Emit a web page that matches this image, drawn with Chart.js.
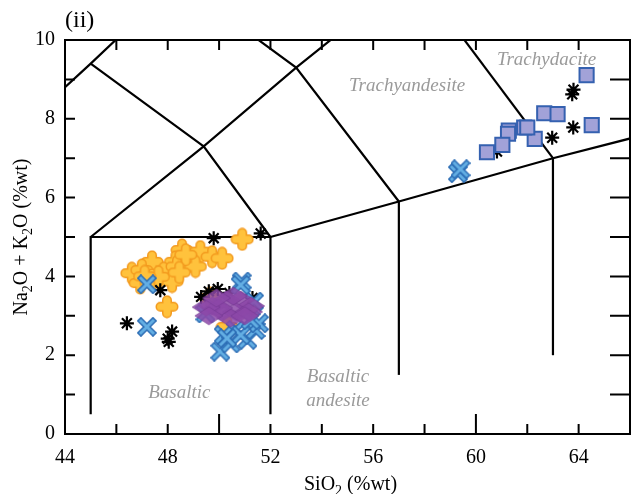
<!DOCTYPE html>
<html>
<head>
<meta charset="utf-8">
<script src="https://cdn.jsdelivr.net/npm/chart.js@4"></script>
<style>
html,body{margin:0;padding:0;background:#fff;}
#wrap{width:631px;height:494px;}
</style>
</head>
<body>
<div id="wrap"><canvas id="c" width="631" height="494"></canvas></div>
<script>
// ---- data (SiO2 %wt, Na2O+K2O %wt) ----
const orangeX = [50.90,48.56,49.27,49.73,50.12,47.39,48.30,48.82,46.60,46.99,47.84,48.36,49.08,47.39,48.17,46.93,47.64,47.97,49.66,50.32,48.70,48.45,47.10];
const orangeY = [4.94,4.67,4.63,4.50,4.46,4.37,4.37,4.37,4.08,4.16,4.08,4.25,4.25,3.91,3.87,3.83,3.99,3.23,3.45,2.72,4.55,4.10,4.00];

const starX = [49.79,51.62,47.71,46.41,48.17,48.04,48.00,49.30,49.60,49.95,50.40,51.30,63.75,63.80,63.79,62.97,60.82];
const starY = [4.97,5.09,3.65,2.81,2.60,2.34,2.42,3.48,3.62,3.68,3.58,3.45,8.62,8.74,7.78,7.52,7.17];

const crossX = [59.30,59.40,47.19,47.19,50.88,51.36,50.84,50.05,50.18,50.64,51.10,51.42,50.45,50.84,51.55,49.47,50.31,51.23];
const crossY = [6.62,6.72,3.80,2.72,3.87,3.36,3.78,2.09,2.51,2.64,2.39,2.64,2.30,2.51,2.81,3.06,2.43,2.89];

const diamondX = [50.29,49.74,50.84,51.23,50.13,50.68,51.15,50.45,51.00,49.98,49.50,50.55,49.60,49.90];
const diamondY = [3.40,3.25,3.40,3.25,3.10,3.10,3.10,2.94,3.00,3.20,3.22,3.50,3.00,3.45];

const squareX = [64.31,64.51,62.66,63.18,62.29,61.88,62.00,61.28,61.25,61.03,60.43];
const squareY = [9.11,7.84,8.14,8.12,7.49,7.78,7.78,7.70,7.62,7.34,7.15];

// TAS field boundaries
const boundaryLines = [
  [[45,0.5],[45,5],[52,5],[52,0.5]],
  [[41,7],[45,9.4],[48.4,11.5]],
  [[45,5],[49.4,7.3],[52,5]],
  [[45,9.4],[49.4,7.3],[53,9.3],[57.6,11.7]],
  [[48.4,11.5],[53,9.3],[57,5.9]],
  [[52,5],[57,5.9],[63,7],[69,8]],
  [[57,1.5],[57,5.9]],
  [[63,2],[63,7]],
  [[57.6,11.7],[63,7]]
];

const fieldLabels = [
  {text:'Trachyandesite', x:57.32, y:8.83},
  {text:'Trachydacite', x:62.75, y:9.49},
  {text:'Basaltic', x:48.45, y:1.04},
  {text:'Basaltic', x:54.63, y:1.45},
  {text:'andesite', x:54.63, y:0.84}
];

const xTickLabels = [44,48,52,56,60,64];
const yTickLabels = [0,2,4,6,8,10];

// ---- marker images ----
function mk(w,h,fn){const c=document.createElement('canvas');c.width=w;c.height=h;fn(c.getContext('2d'));return c;}
const plusImg = mk(24,24,g=>{
  g.lineCap='round';
  g.strokeStyle='#F39A1E';g.lineWidth=10;
  g.beginPath();g.moveTo(5.5,12);g.lineTo(18.5,12);g.moveTo(12,5.5);g.lineTo(12,18.5);g.stroke();
  g.strokeStyle='#FFC23C';g.lineWidth=7;
  g.beginPath();g.moveTo(5.5,12);g.lineTo(18.5,12);g.moveTo(12,5.5);g.lineTo(12,18.5);g.stroke();
});
const xImg = mk(20,20,g=>{
  g.lineCap='square';
  g.strokeStyle='#2C6DB5';g.lineWidth=6;
  g.beginPath();g.moveTo(4,4);g.lineTo(16,16);g.moveTo(16,4);g.lineTo(4,16);g.stroke();
  g.strokeStyle='#63AEE3';g.lineWidth=3;
  g.beginPath();g.moveTo(4,4);g.lineTo(16,16);g.moveTo(16,4);g.lineTo(4,16);g.stroke();
});
const rhombImg = mk(30,20,g=>{
  g.beginPath();g.moveTo(1,10);g.lineTo(15,1);g.lineTo(29,10);g.lineTo(15,19);g.closePath();
  g.fillStyle='rgba(140,72,168,0.85)';g.fill();
  g.strokeStyle='rgba(115,55,145,0.6)';g.lineWidth=1;g.stroke();
});

function pts(xs,ys){return xs.map((x,i)=>({x:x,y:ys[i]}));}

const datasets = [];
boundaryLines.forEach(seg=>{
  datasets.push({type:'line',data:seg.map(p=>({x:p[0],y:p[1]})),borderColor:'#000',borderWidth:2.2,pointRadius:0,fill:false,tension:0,order:10});
});
datasets.push({data:pts(orangeX,orangeY),pointStyle:plusImg,order:6});
datasets.push({data:pts(starX,starY),pointStyle:'star',pointRadius:7,borderColor:'#000',borderWidth:2.2,order:5});
datasets.push({data:pts(crossX,crossY),pointStyle:xImg,order:4});
datasets.push({data:pts(diamondX,diamondY),pointStyle:rhombImg,order:3});
datasets.push({data:pts(squareX,squareY),pointStyle:'rect',pointRadius:10,backgroundColor:'#A2A2D8',borderColor:'#3561B0',borderWidth:2,order:1});

const SERIF = '"Liberation Serif","DejaVu Serif",serif';

const decor = {
  id:'decor',
  beforeDatasetsDraw(chart){
    const {ctx, scales:{x,y}} = chart;
    ctx.save();
    ctx.fillStyle='#9a9a9a';
    ctx.font='italic 19px '+SERIF;
    ctx.textAlign='center';ctx.textBaseline='middle';
    fieldLabels.forEach(l=>ctx.fillText(l.text,x.getPixelForValue(l.x),y.getPixelForValue(l.y)));
    ctx.restore();
  },
  afterDraw(chart){
    const {ctx, chartArea:a, scales:{x,y}} = chart;
    ctx.save();
    ctx.strokeStyle='#000';ctx.lineWidth=2;
    ctx.strokeRect(a.left,a.top,a.right-a.left,a.bottom-a.top);
    ctx.beginPath();
    x.ticks.forEach(t=>{
      const px=x.getPixelForValue(t.value);
      const long=(t.value===50||t.value===60);
      ctx.moveTo(px,a.bottom);ctx.lineTo(px,a.bottom-(long?20:10));
      ctx.moveTo(px,a.top);ctx.lineTo(px,a.top+10);
    });
    y.ticks.forEach(t=>{
      const py=y.getPixelForValue(t.value);
      ctx.moveTo(a.left,py);ctx.lineTo(a.left+10,py);
      ctx.moveTo(a.right,py);ctx.lineTo(a.right-20,py);
    });
    ctx.stroke();
    // titles
    ctx.fillStyle='#000';
    ctx.textBaseline='alphabetic';
    function drawRich(parts,cx,cy){
      let w=0;
      parts.forEach(p=>{ctx.font=(p.sub?'14px ':'20px ')+SERIF;w+=ctx.measureText(p.t).width;});
      let xx=cx-w/2;
      ctx.textAlign='left';
      parts.forEach(p=>{ctx.font=(p.sub?'14px ':'20px ')+SERIF;ctx.fillText(p.t,xx,cy+(p.sub?5:0));xx+=ctx.measureText(p.t).width;});
    }
    drawRich([{t:'SiO'},{t:'2',sub:true},{t:' (%wt)'}],(a.left+a.right)/2+3,490);
    ctx.save();
    ctx.translate(27,(a.top+a.bottom)/2);
    ctx.rotate(-Math.PI/2);
    drawRich([{t:'Na'},{t:'2',sub:true},{t:'O + K'},{t:'2',sub:true},{t:'O (%wt)'}],0,0);
    ctx.restore();
    ctx.font='24px '+SERIF;ctx.textAlign='left';
    ctx.fillText('(ii)',65,27);
    ctx.restore();
  }
};

new Chart(document.getElementById('c'),{
  type:'scatter',
  data:{datasets:datasets},
  plugins:[decor],
  options:{
    responsive:false,animation:false,
    layout:{autoPadding:false,padding:{top:40,right:1,left:0,bottom:0}},
    plugins:{legend:{display:false},tooltip:{enabled:false}},
    elements:{point:{radius:9}},
    scales:{
      x:{type:'linear',min:44,max:66,
        afterFit(s){s.height=60;s.paddingRight=0;s.paddingLeft=0;},
        grid:{display:false,drawTicks:false},border:{display:false},
        ticks:{stepSize:2,padding:12,color:'#000',font:{family:SERIF,size:20},maxRotation:0,autoSkip:false,
          callback:v=>xTickLabels.includes(v)?String(v):''}},
      y:{type:'linear',min:0,max:10,
        afterFit(s){s.width=65;s.paddingTop=0;s.paddingBottom=0;},
        grid:{display:false,drawTicks:false},border:{display:false},
        ticks:{stepSize:1,padding:10,color:'#000',font:{family:SERIF,size:20},autoSkip:false,
          callback:v=>yTickLabels.includes(v)?String(v):''}}
    }
  }
});
</script>
</body>
</html>
